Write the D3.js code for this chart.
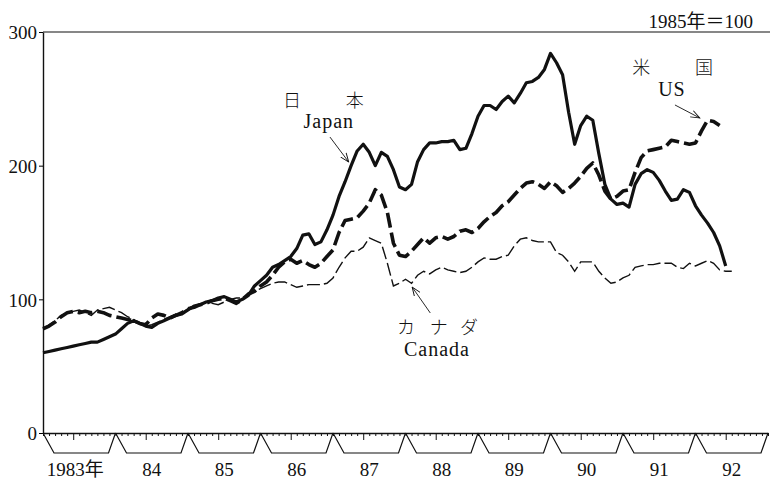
<!DOCTYPE html>
<html>
<head>
<meta charset="utf-8">
<script src="https://cdn.jsdelivr.net/npm/d3@7"></script>
<style>
  body { margin: 0; background: #fff; }
  svg text { font-family: "Liberation Serif", "Noto Sans CJK JP", serif; fill: #111; }
  .jp { font-family: "Noto Sans CJK JP", sans-serif; font-weight: 300; }
</style>
</head>
<body>
<div id="chart"></div>
<script>
// monthly index, Jan 1983 = month 0 (1985 = 100)
var years = ["1983年", "84", "85", "86", "87", "88", "89", "90", "91", "92"];
var yTicks = [0, 100, 200, 300];

var japan = [60, 61, 62, 63, 64, 65, 66, 67, 68, 68, 70, 72,
  74, 78, 82, 84, 82, 80, 79, 82, 84, 86, 88, 89,
  92, 95, 96, 98, 99, 101, 102, 100, 98, 100, 103, 110,
  114, 118, 124, 126, 129, 132, 138, 148, 149, 141, 143, 152,
  163, 177, 188, 200, 211, 216, 210, 200, 210, 207, 197, 184,
  182, 186, 203, 212, 217, 217, 218, 218, 219, 212, 213, 224,
  237, 245, 245, 242, 248, 252, 247, 254, 262, 263, 266, 272,
  284, 277, 268, 240, 216, 230, 237, 234, 209, 186, 175, 171,
  172, 169, 186, 194, 197, 195, 189, 181, 174, 175, 182, 180,
  170, 163, 157, 150, 140, 125];

var us = [78, 80, 83, 87, 90, 91, 90, 91, 90, 91, 90, 88,
  87, 86, 85, 84, 82, 81, 86, 89, 88, 86, 88, 90,
  93, 94, 96, 97, 99, 100, 101, 99, 97, 100, 104, 106,
  110, 113, 118, 124, 128, 130, 127, 129, 126, 124, 127, 132,
  137, 150, 159, 160, 161, 166, 172, 182, 178, 165, 142, 133,
  132, 136, 141, 146, 142, 146, 147, 145, 147, 151, 152, 150,
  153, 158, 162, 165, 170, 173, 178, 183, 187, 188, 186, 183,
  188, 185, 180, 183, 187, 192, 198, 202, 193, 181, 175, 177,
  181, 182, 195, 206, 211, 212, 213, 214, 219, 218, 217, 216,
  217, 226, 234, 233, 230];

var canada = [78, 81, 84, 88, 90, 91, 92, 90, 88, 92, 93, 94,
  92, 90, 87, 85, 82, 80, 81, 83, 85, 87, 89, 90,
  93, 95, 96, 98, 97, 96, 98, 100, 101, 101, 103, 106,
  108, 110, 112, 113, 113, 111, 109, 110, 111, 111, 111, 112,
  116, 124, 131, 136, 136, 139, 146, 144, 142, 127, 110, 112,
  115, 112, 118, 121, 119, 122, 124, 122, 121, 120, 121, 124,
  128, 131, 130, 130, 132, 133, 140, 145, 146, 144, 143, 143,
  143, 135, 133, 128, 121, 128, 128, 128, 121, 116, 112, 113,
  116, 118, 124, 125, 126, 126, 127, 127, 127, 124, 123, 127,
  125, 127, 129, 127, 122, 121, 121];

var w = 770;
var h = 480;
var padL = 43, padR = 768, padT = 32, padB = 433;

var svg = d3.select("#chart")
    .append("svg")
    .attr("width", w)
    .attr("height", h);

var xScale = d3.scaleLinear().domain([0, 120]).range([padL, padR]);
var yScale = d3.scaleLinear().domain([0, 300]).range([padB, padT]);

// arrow head
svg.append("defs").append("marker")
    .attr("id", "arr")
    .attr("viewBox", "0 0 10 8")
    .attr("refX", 9).attr("refY", 4)
    .attr("markerWidth", 10).attr("markerHeight", 8)
    .attr("markerUnits", "userSpaceOnUse")
    .attr("orient", "auto")
    .append("path")
    .attr("d", "M0,0.5 L9,4 L0,7.5")
    .attr("fill", "none")
    .attr("stroke", "#111")
    .attr("stroke-width", 0.9);

// top frame line
svg.append("line")
    .attr("x1", padL).attr("x2", w)
    .attr("y1", padT).attr("y2", padT)
    .attr("stroke", "#111").attr("stroke-width", 1.2);

// Y axis
var yAxis = d3.axisLeft(yScale).tickValues(yTicks).tickSize(4).tickSizeOuter(0).tickPadding(2);
var gy = svg.append("g")
    .attr("transform", "translate(" + padL + ",0)")
    .call(yAxis);
gy.select(".domain").attr("stroke", "#111").attr("stroke-width", 1.4);
gy.selectAll("text").attr("font-size", "19px").attr("dy", "0.36em")
    .style("font-family", "'Liberation Serif', serif");

// X axis: monthly ticks hanging under the base line
var months = d3.range(0, 121);
var xAxis = d3.axisBottom(xScale).tickValues(months).tickSize(3).tickSizeOuter(0).tickFormat("");
var gx = svg.append("g")
    .attr("transform", "translate(0," + padB + ")")
    .call(xAxis);
gx.select(".domain").attr("stroke", "#111").attr("stroke-width", 1.4);
gx.selectAll(".tick line")
    .attr("stroke", "#111")
    .attr("y2", function (d) { return d % 12 == 5 ? 7 : 3; });

// year brackets
svg.append("g").selectAll("path")
    .data(years)
    .enter()
    .append("path")
    .attr("d", function (d, i) {
        var x0 = xScale(i * 12), x1 = xScale(i * 12 + 12);
        return "M" + x0 + "," + padB + "L" + (x0 + 11) + "," + (padB + 20) +
            "L" + (x1 - 7) + "," + (padB + 20) + "L" + x1 + "," + padB;
    })
    .attr("fill", "none")
    .attr("stroke", "#111")
    .attr("stroke-width", 1.2);

svg.append("g").selectAll("text")
    .data(years)
    .enter()
    .append("text")
    .attr("x", function (d, i) { return xScale(i * 12 + 6) + (i == 0 ? -4 : 0); })
    .attr("y", 476)
    .attr("text-anchor", "middle")
    .attr("font-size", "19px")
    .text(function (d) { return d; });

// lines
var line = d3.line()
    .x(function (d, i) { return xScale(i); })
    .y(function (d) { return yScale(d); });

svg.append("path").datum(canada)
    .attr("d", line)
    .attr("fill", "none").attr("stroke", "#111")
    .attr("stroke-width", 1.4)
    .attr("stroke-dasharray", "13,4");

svg.append("path").datum(us)
    .attr("d", line)
    .attr("fill", "none").attr("stroke", "#111")
    .attr("stroke-width", 3.6)
    .attr("stroke-dasharray", "15,5")
    .attr("stroke-linejoin", "round");

svg.append("path").datum(japan)
    .attr("d", line)
    .attr("fill", "none").attr("stroke", "#111")
    .attr("stroke-width", 3.2)
    .attr("stroke-linejoin", "round");

// base label
svg.append("text")
    .attr("x", 753).attr("y", 28)
    .attr("text-anchor", "end")
    .attr("font-size", "19px")
    .text("1985年＝100");

// series labels (month index, value)
var labels = [
    { t: "日", m: 41.2, v: 244, jp: true },
    { t: "本", m: 51.6, v: 244, jp: true },
    { t: "Japan", m: 47.3, v: 228 },
    { t: "米", m: 99, v: 268.5, jp: true },
    { t: "国", m: 109.4, v: 268.5, jp: true },
    { t: "US", m: 104.1, v: 252 },
    { t: "カ", m: 60.1, v: 74, jp: true },
    { t: "ナ", m: 65.5, v: 74, jp: true },
    { t: "ダ", m: 70.5, v: 74, jp: true },
    { t: "Canada", m: 65.2, v: 57.6 }
];
svg.append("g").selectAll("text")
    .data(labels)
    .enter()
    .append("text")
    .attr("class", function (d) { return d.jp ? "jp" : null; })
    .attr("x", function (d) { return xScale(d.m); })
    .attr("y", function (d) { return yScale(d.v); })
    .attr("text-anchor", "middle")
    .attr("font-size", function (d) { return d.jp ? "18px" : "20px"; })
    .attr("letter-spacing", function (d) { return d.jp ? 0 : 1; })
    .text(function (d) { return d.t; });

var arrows = [
    [47.5, 221.4, 50.6, 202.7],
    [104.6, 245.4, 108.7, 235.7],
    [64.1, 89.8, 61.1, 109.2]
];
svg.append("g").selectAll("line")
    .data(arrows)
    .enter()
    .append("line")
    .attr("x1", function (d) { return xScale(d[0]); })
    .attr("y1", function (d) { return yScale(d[1]); })
    .attr("x2", function (d) { return xScale(d[2]); })
    .attr("y2", function (d) { return yScale(d[3]); })
    .attr("stroke", "#111")
    .attr("stroke-width", 0.9)
    .attr("marker-end", "url(#arr)");
</script>
</body>
</html>
